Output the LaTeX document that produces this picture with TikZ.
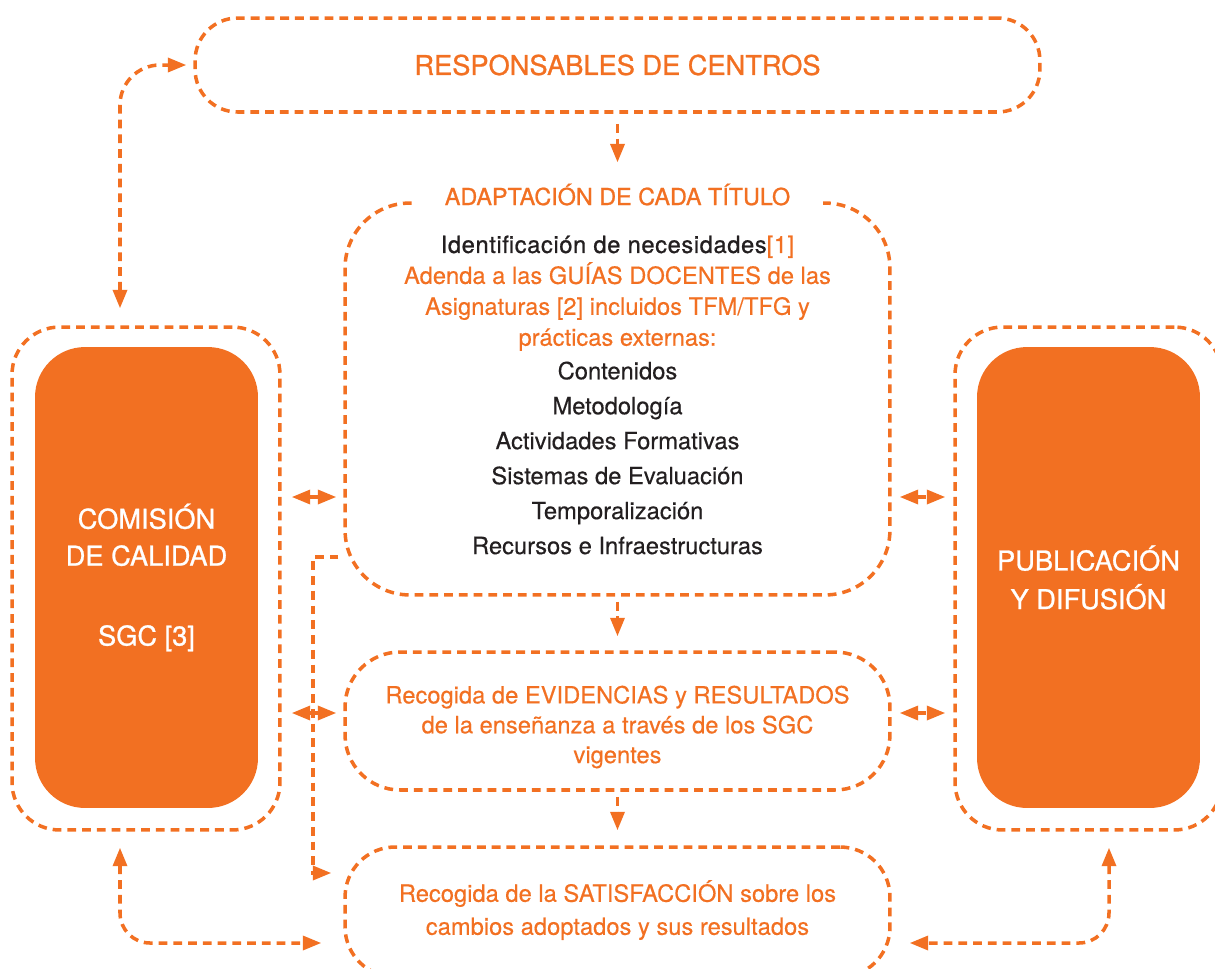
\documentclass[tikz,border=0pt]{standalone}
\usepackage{fontspec}
\setmainfont{TeX Gyre Heros}[FakeBold=0.35]
\newfontfamily\medio{TeX Gyre Heros}[FakeBold=0.9]
\usetikzlibrary{arrows.meta,positioning}

\definecolor{naranja}{RGB}{242,112,34}
\definecolor{texto}{RGB}{35,31,32}

\tikzset{
    punta/.tip={Triangle[length=0.37cm,width=0.28cm]},
    caja/.style={draw=naranja, line width=2pt, dash pattern=on 5pt off 3.4pt,
        minimum width=10.9cm},
    rotulo/.style={text=naranja, align=center, font=\fontsize{13.5}{17}\selectfont},
    bloque/.style={fill=naranja, text=white, align=center, rounded corners=1cm,
        minimum width=4.46cm, minimum height=9.22cm, font=\medio\fontsize{15.5}{21}\selectfont},
    flecha/.style={draw=naranja, line width=2pt, dash pattern=on 5pt off 3.4pt, -punta},
    doble/.style={flecha, punta-punta},
}

\begin{document}
\begin{tikzpicture}[x=0.02cm, y=-0.02cm]
        \useasboundingbox (0,0) rectangle (1215,968);

        \node[caja, rotulo, minimum width=16.9cm, minimum height=1.88cm, rounded corners=0.85cm,
            font=\medio\fontsize{15.5}{18}\selectfont] (resp) at (617.5,65) {RESPONSABLES DE CENTROS};

        \node[caja, minimum height=7.84cm, rounded corners=1.3cm] (adapt) at (617.5,399) {};
        \node[rotulo, font=\fontsize{13.5}{17.6}\selectfont] (adapttexto) at ([yshift=0.08cm]adapt.center)
            {{\medio\addfontfeatures{LetterSpace=2.5}\color{texto}Identificación de necesidades\color{naranja}[1]}\\
             Adenda a las GUÍAS DOCENTES de las\\
             Asignaturas [2] incluidos TFM/TFG y\\
             prácticas externas:\\[1.5pt]
             {\color{texto}Contenidos}\\[2.3pt]
             {\color{texto}Metodología}\\[2.3pt]
             {\color{texto}Actividades Formativas}\\[2.3pt]
             {\color{texto}Sistemas de Evaluación}\\[2.3pt]
             {\color{texto}Temporalización}\\[2.3pt]
             {\color{texto}Recursos e Infraestructuras}};
        \node[fill=white, text=naranja, inner xsep=0.66cm, anchor=base,
            font=\medio\fontsize{13.3}{16}\selectfont] (titulo) at (617.5,205) {ADAPTACIÓN DE CADA TÍTULO};

        \node[caja, minimum height=2.76cm, rounded corners=1.1cm] (evid) at (617.5,721) {};
        \node[rotulo] (evidtexto) at ([yshift=-0.12cm]evid.center)
            {Recogida de EVIDENCIAS y RESULTADOS\\
             de la enseñanza a través de los SGC\\
             vigentes};

        \node[caja, minimum height=2.6cm, rounded corners=1cm] (satis) at (617.5,912) {};
        \node[rotulo, font=\fontsize{13.5}{18.8}\selectfont] (satistexto) at ([yshift=0.04cm]satis.center)
            {Recogida de la SATISFACCIÓN sobre los\\
             cambios adoptados y sus resultados};

        \node[caja, minimum width=5.36cm, minimum height=10.06cm, rounded corners=0.95cm] (cqout) at (146,578.5) {};
        \node[bloque] (cq) at (146.5,577.5) {COMISIÓN\\DE CALIDAD\\[24.5pt]SGC [3]};

        \node[caja, minimum width=5.34cm, minimum height=10.06cm, rounded corners=0.95cm] (pubout) at (1088.5,578.5) {};
        \node[bloque, font=\medio\fontsize{15.5}{22}\selectfont] (pub) at (1088.5,577.5) {PUBLICACIÓN\\Y DIFUSIÓN};

        \draw[flecha, shorten <=0.2cm, shorten >=0.3cm] (resp.south) -- (titulo.north);
        \draw[flecha, shorten <=0.1cm, shorten >=0.28cm] (adapt.south) -- (evid.north);
        \draw[flecha, shorten <=0.1cm, shorten >=0.3cm] (evid.south) -- (satis.north);

        \draw[doble, shorten <=0.2cm, shorten >=0.14cm] (cqout.east |- 0,497) -- (adapt.west |- 0,497);
        \draw[doble, shorten <=0.2cm, shorten >=0.14cm] (cqout.east |- 0,713) -- (evid.west |- 0,713);
        \draw[doble, shorten <=0.16cm, shorten >=0.16cm] (adapt.east |- 0,497) -- (pubout.west |- 0,497);
        \draw[doble, shorten <=0.16cm, shorten >=0.16cm] (evid.east |- 0,713) -- (pubout.west |- 0,713);

        \draw[doble, rounded corners=0.8cm, shorten <=0.34cm, shorten >=0.14cm]
            (120,0 |- cqout.north) -- (120,0 |- resp.west) -- (resp.west);
        \draw[doble, rounded corners=0.6cm, shorten <=0.32cm, shorten >=0.44cm]
            (120,0 |- cqout.south) -- (120,943) -- (satis.west |- 0,943);
        \draw[doble, rounded corners=0.6cm, shorten <=0.32cm, shorten >=0.36cm]
            (1109,0 |- pubout.south) -- (1109,943) -- (satis.east |- 0,943);
        \draw[flecha, shorten <=0.1cm, shorten >=0.24cm]
            (adapt.west |- 0,557) -- (313,557) -- (313,873) -- (satis.west |- 0,873);
\end{tikzpicture}
\end{document}
